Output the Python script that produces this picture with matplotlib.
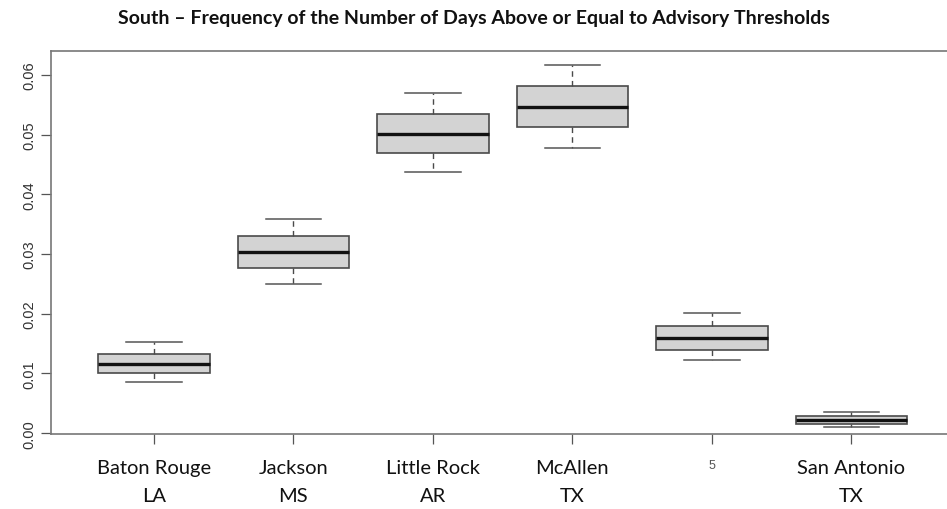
import matplotlib
matplotlib.use("Agg")
import matplotlib.pyplot as plt

# site labels along the x axis (the fifth one is just a stray "5" in the source)
sites = ["Baton Rouge\nLA", "Jackson\nMS", "Little Rock\nAR", "McAllen\nTX", "5", "San Antonio\nTX"]

# five-number summaries
whisker_lo = [0.0085, 0.0250, 0.0437, 0.0478, 0.0122, 0.0010]
q1 = [0.0100, 0.0277, 0.0469, 0.0513, 0.0140, 0.0016]
medians = [0.0116, 0.0303, 0.0502, 0.0547, 0.0159, 0.0022]
q3 = [0.0133, 0.0331, 0.0535, 0.0582, 0.0180, 0.0029]
whisker_hi = [0.0152, 0.0359, 0.0570, 0.0617, 0.0202, 0.0035]

yticks = [0.00, 0.01, 0.02, 0.03, 0.04, 0.05, 0.06]

stats = [
    {"whislo": lo, "q1": a, "med": m, "q3": b, "whishi": hi, "fliers": []}
    for lo, a, m, b, hi in zip(whisker_lo, q1, medians, q3, whisker_hi)
]

fig = plt.figure(figsize=(9.47, 5.10), dpi=100)
ax = fig.add_axes([0.0535, 0.147, 0.9546, 0.7516])

positions = list(range(1, len(sites) + 1))
ax.bxp(
    stats, positions=positions, widths=0.8, patch_artist=True, showfliers=False,
    boxprops=dict(facecolor="#d3d3d3", edgecolor="#4a4a4a", linewidth=1.2),
    medianprops=dict(color="#111111", linewidth=2.4),
    whiskerprops=dict(color="#4a4a4a", linewidth=1.0, linestyle=(0, (4, 3))),
    capprops=dict(color="#555555", linewidth=1.1),
    capwidths=0.4,
)

ax.set_xlim(0.26, 6.74)
ax.set_ylim(-0.00015, 0.0641)

ax.set_yticks(yticks)
ax.set_yticklabels([f"{v:.2f}" for v in yticks], rotation=90, va="center",
                   fontsize=10.5, color="#333333", family="Liberation Sans")
ax.set_xticks(positions)
ax.set_xticklabels(sites, fontsize=14.5, family="Lato", color="#111111", linespacing=1.75)
labels = ax.get_xticklabels()
labels[4].set_fontsize(9)
labels[4].set_color("#555555")
labels[4].set_family("Liberation Sans")

ax.tick_params(axis="both", length=7, width=0.9, color="#555555", direction="out")
ax.tick_params(axis="y", pad=3)
ax.tick_params(axis="x", pad=11)

for side, sp in ax.spines.items():
    sp.set_color("#777777")
    sp.set_linewidth(1.2)

fig.text(0.5, 0.963, "South \u2013 Frequency of the Number of Days Above or Equal to Advisory Thresholds",
         ha="center", va="center", fontsize=14, fontweight="bold", family="Lato", color="#111111")

fig.savefig("out.png", dpi=100, facecolor="white")
